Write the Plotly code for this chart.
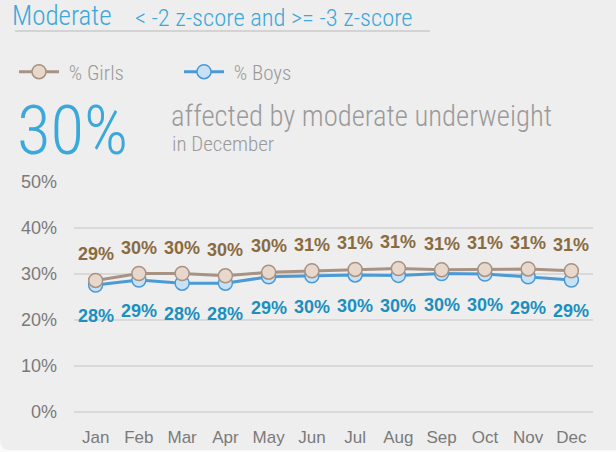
import plotly.graph_objects as go

months = ["Jan", "Feb", "Mar", "Apr", "May", "Jun", "Jul", "Aug", "Sep", "Oct", "Nov", "Dec"]
girls = [28.6, 30.1, 30.1, 29.6, 30.4, 30.7, 31.0, 31.2, 30.9, 31.0, 31.1, 30.7]
boys = [27.6, 28.7, 28.0, 28.0, 29.4, 29.6, 29.8, 29.7, 30.1, 30.0, 29.4, 28.7]
y_ticks = [0, 10, 20, 30, 40, 50]
y_tick_labels = ["0%", "10%", "20%", "30%", "40%", "50%"]

W, H = 616, 452
L, R, T, B = 74, 23, 182, 40
PW, PH = W - L - R, H - T - B

def px(x):
    return (x - L) / PW

def py(y):
    return (H - B - y) / PH

GIRL_LINE = "#a89283"
GIRL_FILL = "#e8d8cc"
GIRL_TEXT = "#8a6a3f"
BOY_LINE = "#4b9ad5"
BOY_FILL = "#c9e1f5"
BOY_TEXT = "#1b8fbf"
TITLE_BLUE = "#3aa8da"
GRAY_TXT = "#9a9a9a"
COND = "Roboto Condensed"

fig = go.Figure()
fig.add_trace(go.Scatter(
    x=months, y=boys, name="\u00a0% Boys", mode="lines+markers",
    line=dict(color=BOY_LINE, width=3),
    marker=dict(size=14, color=BOY_FILL, line=dict(color=BOY_LINE, width=1.5)),
))
fig.add_trace(go.Scatter(
    x=months, y=girls, name="\u00a0% Girls", mode="lines+markers",
    line=dict(color=GIRL_LINE, width=3),
    marker=dict(size=14, color=GIRL_FILL, line=dict(color=GIRL_LINE, width=1.5)),
))

annotations = []
for m, g in zip(months, girls):
    annotations.append(dict(x=m, y=g, xref="x", yref="y", text=f"{int(g + 0.5)}%",
                            showarrow=False, yshift=26,
                            font=dict(family="Liberation Sans", size=18, color=GIRL_TEXT, weight="bold")))
for m, b in zip(months, boys):
    annotations.append(dict(x=m, y=b, xref="x", yref="y", text=f"{int(b + 0.5)}%",
                            showarrow=False, yshift=-31,
                            font=dict(family="Liberation Sans", size=18, color=BOY_TEXT, weight="bold")))

annotations += [
    dict(x=px(10), y=py(16), xref="paper", yref="paper", xanchor="left", yanchor="middle",
         text="Moderate", showarrow=False,
         font=dict(family=COND, size=27, color=TITLE_BLUE, weight=300)),
    dict(x=px(133), y=py(18), xref="paper", yref="paper", xanchor="left", yanchor="middle",
         text="&lt; -2 z-score and &gt;= -3 z-score", showarrow=False,
         font=dict(family=COND, size=24.5, color=TITLE_BLUE, weight=300)),
    dict(x=px(15), y=py(130), xref="paper", yref="paper", xanchor="left", yanchor="middle",
         text="30%", showarrow=False,
         font=dict(family=COND, size=69, color=TITLE_BLUE, weight=300)),
    dict(x=px(169), y=py(116), xref="paper", yref="paper", xanchor="left", yanchor="middle",
         text="affected by moderate underweight", showarrow=False,
         font=dict(family=COND, size=28.7, color=GRAY_TXT, weight=300)),
    dict(x=px(170), y=py(144), xref="paper", yref="paper", xanchor="left", yanchor="middle",
         text="in December", showarrow=False,
         font=dict(family=COND, size=21, color=GRAY_TXT, weight=300)),
]

def pt(x, y):
    return f"{px(x):.5f},{py(y):.5f}"

panel_path = (f"M {pt(0, -5)} L {pt(625, -5)} L {pt(625, 450)} L {pt(10, 450)} "
              f"Q {pt(0, 450)} {pt(0, 440)} Z")

shapes = [
    dict(type="path", xref="paper", yref="paper", path=panel_path, layer="below",
         fillcolor="#eeeeee", line=dict(width=0)),
    dict(type="line", xref="paper", yref="paper", x0=px(15), x1=px(430), y0=py(31), y1=py(31),
         line=dict(color="#d3d3d3", width=2)),
]

fig.update_layout(
    width=W, height=H,
    margin=dict(l=L, r=R, t=T, b=B, autoexpand=False),
    paper_bgcolor="#fafafa", plot_bgcolor="rgba(0,0,0,0)",
    showlegend=True,
    legend=dict(orientation="h", x=px(14), y=py(72), xanchor="left", yanchor="middle",
                bgcolor="rgba(0,0,0,0)", traceorder="reversed",
                font=dict(family=COND, size=21, color=GRAY_TXT, weight=300),
                itemwidth=40, entrywidth=110),
    xaxis=dict(type="category", range=[-0.5, 11.5], showgrid=False, zeroline=False,
               showline=False, ticks="", ticklabelstandoff=13, automargin=False,
               tickfont=dict(family="Liberation Sans", size=17, color="#7a7a7a")),
    yaxis=dict(range=[0, 50], tickvals=y_ticks, ticktext=y_tick_labels,
               showgrid=True, gridcolor="#d9d9d9", gridwidth=2,
               zeroline=True, zerolinecolor="#d9d9d9", zerolinewidth=2,
               showline=False, ticks="", ticklabelstandoff=16, automargin=False,
               tickfont=dict(family="Liberation Sans", size=18, color="#7a7a7a")),
    annotations=annotations,
    shapes=shapes,
)

fig.write_html("out.html", config={"displayModeBar": False},
               post_script="document.body.style.margin='0';")
